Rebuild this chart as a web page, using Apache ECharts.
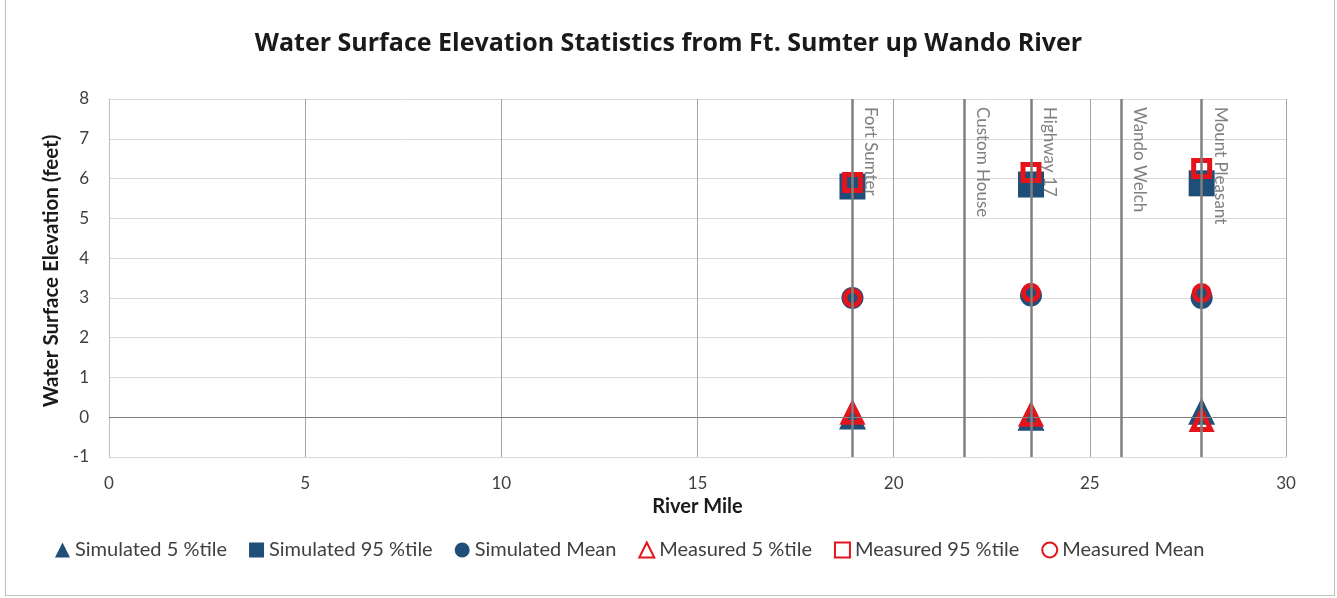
<!DOCTYPE html>
<html><head><meta charset="utf-8">
<script src="https://cdn.jsdelivr.net/npm/echarts@6/dist/echarts.min.js"></script>
<style>
html,body{margin:0;padding:0;background:#fff;}
#frame{position:absolute;left:5px;top:0;width:1330px;height:596px;border:1px solid #bfbfbf;border-top:none;box-sizing:border-box;}
#c{position:absolute;left:0;top:0;width:1337px;height:598px;}
</style></head>
<body>
<div id="frame"></div>
<div id="c"></div>
<script>
var stationNames = ['Fort Sumter', 'Custom House', 'Highway 17', 'Wando Welch', 'Mount Pleasant'];
var stationMiles = [18.95, 21.8, 23.5, 25.8, 27.85];

var dataMiles = [18.95, 23.5, 27.85];
var sim5 = [0.03, 0.0, 0.15];
var sim95 = [5.8, 5.85, 5.88];
var simMean = [3.0, 3.06, 3.0];
var meas5 = [0.1, 0.05, -0.08];
var meas95 = [5.9, 6.15, 6.25];
var measMean = [3.0, 3.13, 3.12];

var xTicks = [0, 5, 10, 15, 20, 25, 30];
var yTicks = [-1, 0, 1, 2, 3, 4, 5, 6, 7, 8];

var BLUE = '#1F4E79';
var RED = '#E5141B';
var FONT = 'Lato, "Liberation Sans", sans-serif';

function pts(vals) { return dataMiles.map(function (m, i) { return [m, vals[i]]; }); }

var chart = echarts.init(document.getElementById('c'), null, {renderer: 'canvas'});

var stationLines = stationMiles.map(function (m, i) {
  return [{coord: [m, yTicks[yTicks.length - 1]], name: stationNames[i]}, {coord: [m, yTicks[0]]}];
});

function simSeries(name, sym, size, vals) {
  return {
    name: name, type: 'scatter', symbol: sym, symbolSize: size, z: 3,
    itemStyle: {color: BLUE, opacity: 1},
    data: pts(vals)
  };
}
function measSeries(name, sym, size, vals) {
  return {
    name: name, type: 'scatter', symbol: sym, symbolSize: size, z: 4,
    itemStyle: {color: 'rgba(255,255,255,0)', borderColor: RED, borderWidth: 5, opacity: 1},
    data: pts(vals)
  };
}

chart.setOption({
  animation: false,
  backgroundColor: 'transparent',
  title: {
    text: 'Water Surface Elevation Statistics from Ft. Sumter up Wando River',
    left: 'center', top: 26,
    textStyle: {fontFamily: '"Open Sans", sans-serif', fontSize: 25, fontWeight: 'bold', color: '#1a1a1a'}
  },
  grid: {left: 109, right: 51, top: 99, bottom: 141},
  xAxis: {
    type: 'value', min: 0, max: 30, interval: 5,
    name: 'River Mile', nameLocation: 'middle', nameGap: 37,
    nameTextStyle: {fontFamily: FONT, fontSize: 20, fontWeight: 'bold', color: '#1a1a1a'},
    axisLine: {show: false},
    axisTick: {show: false},
    axisLabel: {fontFamily: FONT, fontSize: 17, color: '#404040', margin: 18},
    splitLine: {show: true, lineStyle: {color: '#a6a6a6', width: 1}}
  },
  yAxis: {
    type: 'value', min: -1, max: 8, interval: 1,
    name: 'Water Surface Elevation (feet)', nameLocation: 'middle', nameGap: 47,
    nameTextStyle: {fontFamily: FONT, fontSize: 20.5, fontWeight: 'bold', color: '#1a1a1a', padding: [0, 0, 0, 14]},
    axisLine: {show: true, onZero: false, lineStyle: {color: '#bfbfbf'}},
    axisTick: {show: false},
    axisLabel: {fontFamily: FONT, fontSize: 17, color: '#404040', margin: 20, align: 'right'},
    splitLine: {show: true, lineStyle: {color: '#d9d9d9', width: 1}}
  },
  legend: {
    top: 535, left: 50,
    itemWidth: 15, itemHeight: 15, itemGap: 22,
    textStyle: {fontFamily: FONT, fontSize: 20, color: '#404040'},
    data: ['Simulated 5 %tile', 'Simulated 95 %tile', 'Simulated Mean', 'Measured 5 %tile', 'Measured 95 %tile', 'Measured Mean']
  },
  series: [
    {
      name: 'zeroLine', type: 'line', data: [], silent: true,
      markLine: {
        silent: true, symbol: 'none',
        lineStyle: {color: '#808080', width: 1, type: 'solid'},
        label: {show: false},
        data: [[{coord: [xTicks[0], 0]}, {coord: [xTicks[xTicks.length - 1], 0]}]]
      }
    },
    {
      name: 'stations', type: 'line', data: [], silent: true,
      markLine: {
        silent: true, symbol: 'none',
        lineStyle: {color: '#7f7f7f', width: 2.5, type: 'solid'},
        label: {
          show: true, position: 'insideStartTop', distance: [8, 10],
          formatter: '{b}', fontFamily: FONT, fontSize: 17, color: '#808080'
        },
        data: stationLines
      }
    },
    simSeries('Simulated 5 %tile', 'triangle', 27, sim5),
    simSeries('Simulated 95 %tile', 'rect', 26, sim95),
    simSeries('Simulated Mean', 'circle', 22, simMean),
    measSeries('Measured 5 %tile', 'triangle', 18, meas5),
    measSeries('Measured 95 %tile', 'rect', 16, meas95),
    measSeries('Measured Mean', 'circle', 15, measMean)
  ]
});
</script>
</body></html>
